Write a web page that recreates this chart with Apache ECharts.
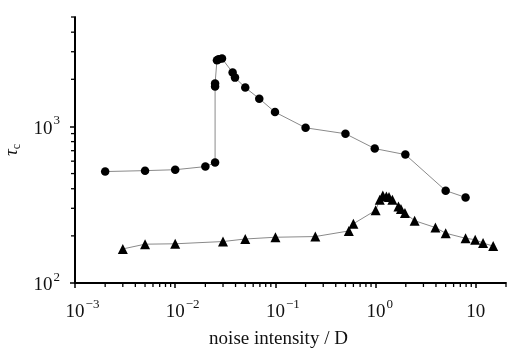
<!DOCTYPE html>
<html><head><meta charset="utf-8">
<script src="https://cdn.jsdelivr.net/npm/echarts@6/dist/echarts.min.js"></script>
<style>html,body{margin:0;padding:0;background:#fff}#c{width:510px;height:349px}</style>
</head><body><div id="c"></div>
<script>
// Data
const circleX = [0.002,0.005,0.01,0.02,0.025,0.025,0.025,0.0261,0.0271,0.0293,0.0374,0.0395,0.05,0.069,0.099,0.2,0.5,0.98,1.98,5,7.9];
const circleY = [515,522,529,554,588,1800,1880,2650,2690,2715,2210,2050,1770,1505,1235,980,898,722,661,389,352];
const triX = [0.003,0.005,0.01,0.03,0.05,0.1,0.25,0.54,0.6,1.0,1.1,1.18,1.28,1.36,1.47,1.69,1.79,1.96,2.45,3.95,5,7.9,9.85,11.8,14.9];
const triY = [165,177,178,184,191,196,198,215,239,291,340,362,357,354,340,308,297,280,250,226,208,193,189,180,172];
const xTickLabels = {'0.001':'{p2|}{b|10}{s|−3}','0.01':'{p2|}{b|10}{s|−2}','0.1':'{p2|}{b|10}{s|−1}','1':'{p1|}{b|10}{s|0}','10':'{b|10}'};
const yTickLabels = {'100':'{b|10}{s|2}','1000':'{b|10}{s|3}'};
const xMinorTicks = [0.002,0.003,0.004,0.005,0.006,0.007,0.008,0.009,0.02,0.03,0.04,0.05,0.06,0.07,0.08,0.09,0.2,0.3,0.4,0.5,0.6,0.7,0.8,0.9,2,3,4,5,6,7,8,9,20];
const yMinorTicks = [200,300,400,500,600,700,800,900,2000,3000,4000,5000];
const xName = 'noise intensity / D';

const FONT = 'Liberation Serif';
const rich = {
  b:{fontFamily:FONT,fontSize:19,color:'#111',lineHeight:24,verticalAlign:'bottom'},
  s:{fontFamily:FONT,fontSize:13,color:'#111',lineHeight:24,verticalAlign:'top',padding:[0,0,0,1]},
  p1:{width:8,fontSize:1,lineHeight:24},
  p2:{width:15,fontSize:1,lineHeight:24}
};
const zip = (a,b)=>a.map((v,i)=>[v,b[i]]);

const chart = echarts.init(document.getElementById('c'));
chart.setOption({
  animation:false,
  grid:{left:75,top:17,right:4,bottom:66,containLabel:false,outerBoundsMode:'none'},
  xAxis:{type:'log',logBase:10,min:0.001,max:20,
    name:xName,nameLocation:'middle',nameGap:47,
    nameTextStyle:{fontFamily:FONT,fontSize:19,color:'#111',padding:[0,24,0,0]},
    axisLine:{lineStyle:{color:'#000',width:2}},
    axisTick:{inside:false,length:5,lineStyle:{color:'#000',width:1.5}},
    splitLine:{show:false},minorTick:{show:false},
    axisLabel:{margin:15,showMaxLabel:false,rich:rich,
      formatter:v=>{const k=String(+v.toPrecision(6));return xTickLabels[k]||'';}}
  },
  yAxis:{type:'log',logBase:10,min:100,max:5000,
    name:'{t|τ}{c|c}',nameLocation:'middle',nameGap:50,nameRotate:90,
    nameTextStyle:{rich:{t:{fontFamily:FONT,fontSize:19,fontStyle:'italic',color:'#111',lineHeight:22,verticalAlign:'middle'},
                          c:{fontFamily:FONT,fontSize:12,color:'#111',lineHeight:22,verticalAlign:'bottom',padding:[6,0,0,0]}}},
    axisLine:{show:true,lineStyle:{color:'#000',width:2}},
    axisTick:{show:true,inside:false,length:5,lineStyle:{color:'#000',width:1.5}},
    splitLine:{show:false},minorTick:{show:false},
    axisLabel:{margin:15,showMaxLabel:false,rich:rich,
      formatter:v=>{const k=String(Math.round(v));return yTickLabels[k]||'';}}
  },
  series:[
    {type:'custom',silent:true,clip:false,z:5,
      data:xMinorTicks.map(v=>[v,100]),
      renderItem:(p,api)=>{const pt=api.coord([api.value(0),100]);
        return {type:'line',shape:{x1:pt[0],y1:pt[1]+1,x2:pt[0],y2:pt[1]+4},style:{stroke:'#000',lineWidth:1.3}};}},
    {type:'custom',silent:true,clip:false,z:5,
      data:yMinorTicks.map(v=>[0.001,v]),
      renderItem:(p,api)=>{const pt=api.coord([0.001,api.value(1)]);
        return {type:'line',shape:{x1:pt[0]-1,y1:pt[1],x2:pt[0]-4,y2:pt[1]},style:{stroke:'#000',lineWidth:1.3}};}},
    {type:'line',data:zip(circleX,circleY),symbol:'circle',symbolSize:8.5,
      itemStyle:{color:'#000'},lineStyle:{color:'#8a8a8a',width:1}},
    {type:'line',data:zip(triX,triY),symbol:'triangle',symbolSize:10,
      itemStyle:{color:'#000'},lineStyle:{color:'#8a8a8a',width:1}}
  ]
});
</script></body></html>
